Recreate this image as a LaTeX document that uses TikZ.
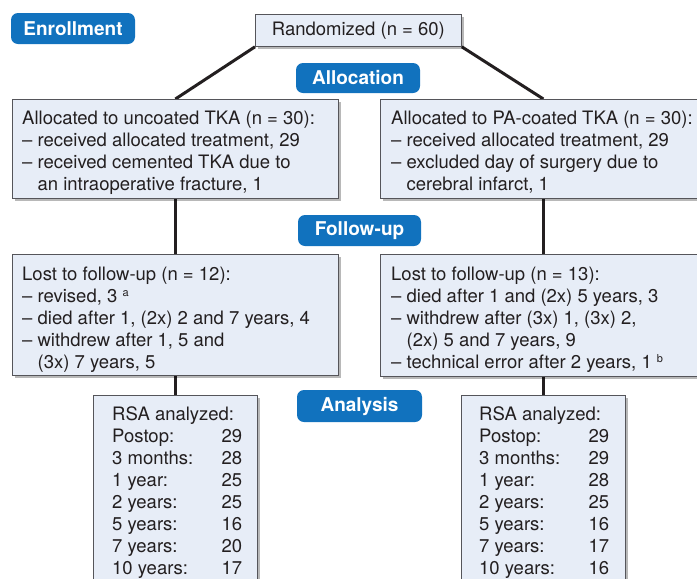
\documentclass[tikz,border=0pt]{standalone}
\usepackage{fontspec}
\setmainfont{TeX Gyre Heros}
\usetikzlibrary{shadows,backgrounds}
\definecolor{pillblue}{RGB}{17,114,190}
\definecolor{boxfill}{RGB}{231,237,247}
\definecolor{boxdraw}{RGB}{85,85,90}
\definecolor{linecol}{RGB}{35,31,32}
\newcommand{\supmark}[1]{\raisebox{0.55ex}{\fontsize{11}{11}\selectfont #1}}
\newcommand{\ind}{\hphantom{– }}
\newcommand{\rsarow}[2]{\makebox[130pt][l]{#1\hfill #2}}
\begin{document}
\begin{tikzpicture}[x=1pt,y=-1pt,
  pill/.style={fill=pillblue, rounded corners=7pt, text=white, inner sep=0pt,
    font=\fontsize{19}{22}\selectfont\bfseries},
  box/.style={fill=boxfill, draw=boxdraw, line width=0.8pt, inner sep=0pt,
    drop shadow={shadow xshift=3pt, shadow yshift=-3pt, fill=black, opacity=0.28}},
  txt/.style={anchor=base west, inner sep=0pt, text=linecol,
    font=\fontsize{18.5}{22}\selectfont},
  link/.style={draw=linecol, line width=3pt}]
\useasboundingbox (0,0) rectangle (697,579);
\clip (0,0) rectangle (697,579);

% stage pills
\node[pill, minimum width=124pt, minimum height=31pt] (enroll) at (73,28.5) {Enrollment};
\node[pill, minimum width=124pt, minimum height=30pt] (alloc) at (358,78) {Allocation};
\node[pill, minimum width=123pt, minimum height=31pt] (follow) at (359.5,230.5) {Follow-up};
\node[pill, minimum width=125pt, minimum height=32pt] (analysis) at (359.5,406) {Analysis};

% boxes
\node[box, anchor=north west, minimum width=206pt, minimum height=32pt,
  text=linecol, font=\fontsize{18.5}{22}\selectfont] (rand) at (255,14) {Randomized (n = 60)};
\node[box, anchor=north west, minimum width=326pt, minimum height=99pt] (a1) at (12,99) {};
\node[box, anchor=north west, minimum width=326pt, minimum height=99pt] (a2) at (380,99) {};
\node[box, anchor=north west, minimum width=326pt, minimum height=121pt] (l1) at (12,254) {};
\node[box, anchor=north west, minimum width=326pt, minimum height=122pt] (l2) at (380,254) {};
\node[box, anchor=north west, minimum width=164pt, minimum height=210pt] (r1) at (93,395) {};
\node[box, anchor=north west, minimum width=164pt, minimum height=210pt] (r2) at (461,395) {};

% connectors
\begin{scope}[on background layer]
\draw[link] (rand.south west) -- (a1.north);
\draw[link] (rand.south east) -- (a2.north);
\draw[link] (a1.south) -- (l1.north);
\draw[link] (a2.south) -- (l2.north);
\draw[link] (l1.south) -- (r1.north);
\draw[link] (l2.south) -- (r2.north);
\end{scope}

% texts
\node[txt] (ta1) at (22,124) {\begin{tabular}[t]{@{}l@{}}
Allocated to uncoated TKA (n = 30):\\
– received allocated treatment, 29\\
– received cemented TKA due to\\
\ind an intraoperative fracture, 1
\end{tabular}};
\node[txt] (ta2) at (391,124) {\begin{tabular}[t]{@{}l@{}}
Allocated to PA-coated TKA (n = 30):\\
– received allocated treatment, 29\\
– excluded day of surgery due to\\
\ind cerebral infarct, 1
\end{tabular}};
\node[txt] (tl1) at (22,280) {\begin{tabular}[t]{@{}l@{}}
Lost to follow-up (n = 12):\\
– revised, 3 \supmark{a}\\
– died after 1, (2x) 2 and 7 years, 4\\
– withdrew after 1, 5 and\\
\ind (3x) 7 years, 5
\end{tabular}};
\node[txt] (tl2) at (391,280) {\begin{tabular}[t]{@{}l@{}}
Lost to follow-up (n = 13):\\
– died after 1 and (2x) 5 years, 3\\
– withdrew after (3x) 1, (3x) 2,\\
\ind (2x) 5 and 7 years, 9\\
– technical error after 2 years, 1 \supmark{b}
\end{tabular}};
\node[txt] (tr1) at (112,420) {\begin{tabular}[t]{@{}l@{}}
RSA analyzed:\\
\rsarow{Postop:}{29}\\
\rsarow{3 months:}{28}\\
\rsarow{1 year:}{25}\\
\rsarow{2 years:}{25}\\
\rsarow{5 years:}{16}\\
\rsarow{7 years:}{20}\\
\rsarow{10 years:}{17}
\end{tabular}};
\node[txt] (tr2) at (479,420) {\begin{tabular}[t]{@{}l@{}}
RSA analyzed:\\
\rsarow{Postop:}{29}\\
\rsarow{3 months:}{29}\\
\rsarow{1 year:}{28}\\
\rsarow{2 years:}{25}\\
\rsarow{5 years:}{16}\\
\rsarow{7 years:}{17}\\
\rsarow{10 years:}{16}
\end{tabular}};
\end{tikzpicture}
\end{document}
